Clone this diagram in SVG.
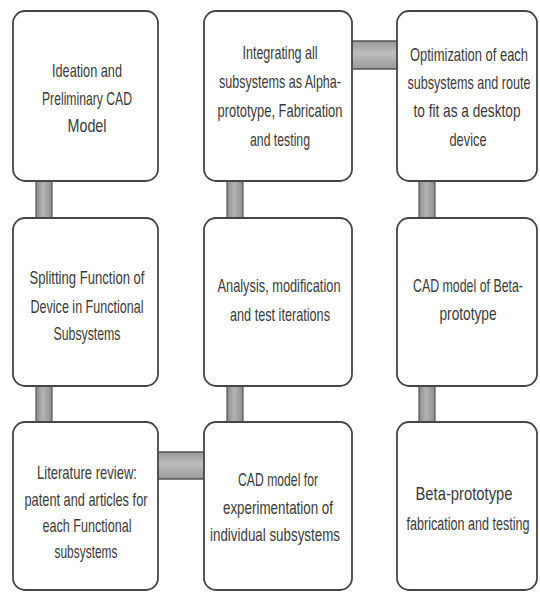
<svg xmlns="http://www.w3.org/2000/svg" width="540" height="592" viewBox="0 0 540 592">
<defs>
<linearGradient id="gv" x1="0" y1="0" x2="1" y2="0">
<stop offset="0" stop-color="#8c8c8c"/><stop offset="0.45" stop-color="#b4b4b4"/><stop offset="1" stop-color="#8c8c8c"/>
</linearGradient>
<linearGradient id="gh" x1="0" y1="0" x2="0" y2="1">
<stop offset="0" stop-color="#999"/><stop offset="0.45" stop-color="#bdbdbd"/><stop offset="1" stop-color="#999"/>
</linearGradient>
</defs>
<style>
.box{fill:#fff;stroke:#454545;stroke-width:1.8}
.cv{fill:url(#gv);stroke:#555;stroke-width:1.2}
.ch{fill:url(#gh);stroke:#4a4a4a;stroke-width:1.4}
text{font-family:"Liberation Sans",Arial,sans-serif;font-size:19px;fill:#3a3a3a;text-anchor:middle}
</style>
<rect width="540" height="592" fill="#fff"/>
<g id="connectors">
<rect class="cv" x="36" y="175" width="16" height="50"/>
<rect class="cv" x="36" y="380" width="16" height="48"/>
<rect class="cv" x="227" y="175" width="16" height="50"/>
<rect class="cv" x="227" y="380" width="16" height="48"/>
<rect class="cv" x="419" y="175" width="16" height="50"/>
<rect class="cv" x="419" y="380" width="16" height="48"/>
<rect class="ch" x="346" y="41" width="58" height="28"/>
<rect class="ch" x="152" y="452" width="58" height="27"/>
</g>
<g id="n1"><rect class="box" x="13" y="11" width="145" height="170" rx="12"/>
<text x="87" y="77" textLength="70" lengthAdjust="spacingAndGlyphs">Ideation and</text>
<text x="87" y="105" textLength="90" lengthAdjust="spacingAndGlyphs">Preliminary CAD</text>
<text x="87" y="132" textLength="39" lengthAdjust="spacingAndGlyphs">Model</text></g>
<g id="n2"><rect class="box" x="204" y="11" width="148" height="170" rx="12"/>
<text x="280" y="59" textLength="75" lengthAdjust="spacingAndGlyphs">Integrating all</text>
<text x="280" y="88" textLength="122" lengthAdjust="spacingAndGlyphs">subsystems as Alpha-</text>
<text x="280" y="117" textLength="125" lengthAdjust="spacingAndGlyphs">prototype, Fabrication</text>
<text x="280" y="146" textLength="60" lengthAdjust="spacingAndGlyphs">and testing</text></g>
<g id="n3"><rect class="box" x="397" y="11" width="140" height="170" rx="12"/>
<text x="469" y="61" textLength="118" lengthAdjust="spacingAndGlyphs">Optimization of each</text>
<text x="469" y="89" textLength="123" lengthAdjust="spacingAndGlyphs">subsystems and route</text>
<text x="467" y="117" textLength="107" lengthAdjust="spacingAndGlyphs">to fit as a desktop</text>
<text x="468" y="146" textLength="37" lengthAdjust="spacingAndGlyphs">device</text></g>
<g id="n4"><rect class="box" x="13" y="218" width="145" height="168" rx="12"/>
<text x="87" y="284" textLength="115" lengthAdjust="spacingAndGlyphs">Splitting Function of</text>
<text x="87" y="313" textLength="113" lengthAdjust="spacingAndGlyphs">Device in Functional</text>
<text x="87" y="340" textLength="67" lengthAdjust="spacingAndGlyphs">Subsystems</text></g>
<g id="n5"><rect class="box" x="204" y="218" width="148" height="168" rx="12"/>
<text x="279" y="292" textLength="123" lengthAdjust="spacingAndGlyphs">Analysis, modification</text>
<text x="280" y="321" textLength="100" lengthAdjust="spacingAndGlyphs">and test iterations</text></g>
<g id="n6"><rect class="box" x="397" y="218" width="140" height="168" rx="12"/>
<text x="468" y="292" textLength="110" lengthAdjust="spacingAndGlyphs">CAD model of Beta-</text>
<text x="468" y="320" textLength="57" lengthAdjust="spacingAndGlyphs">prototype</text></g>
<g id="n7"><rect class="box" x="13" y="422" width="145" height="168" rx="12"/>
<text x="87" y="479" textLength="100" lengthAdjust="spacingAndGlyphs">Literature review:</text>
<text x="86" y="506" textLength="123" lengthAdjust="spacingAndGlyphs">patent and articles for</text>
<text x="87" y="532" textLength="89" lengthAdjust="spacingAndGlyphs">each Functional</text>
<text x="86" y="558" textLength="63" lengthAdjust="spacingAndGlyphs">subsystems</text></g>
<g id="n8"><rect class="box" x="204" y="422" width="148" height="168" rx="12"/>
<text x="278" y="486" textLength="80" lengthAdjust="spacingAndGlyphs">CAD model for</text>
<text x="278" y="514" textLength="110" lengthAdjust="spacingAndGlyphs">experimentation of</text>
<text x="275" y="541" textLength="130" lengthAdjust="spacingAndGlyphs">individual subsystems</text></g>
<g id="n9"><rect class="box" x="397" y="422" width="140" height="168" rx="12"/>
<text x="464" y="500" textLength="97" lengthAdjust="spacingAndGlyphs">Beta-prototype</text>
<text x="468" y="530" textLength="123" lengthAdjust="spacingAndGlyphs">fabrication and testing</text></g>
</svg>
